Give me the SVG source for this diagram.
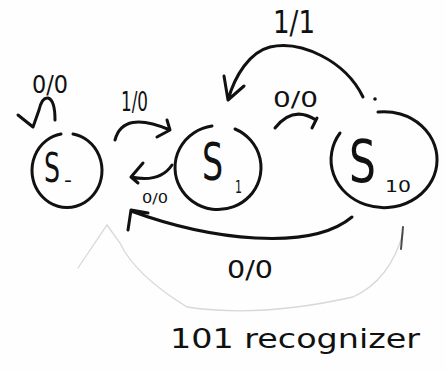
<svg xmlns="http://www.w3.org/2000/svg" width="446" height="371" viewBox="0 0 446 371">
  <style>
    .ink { fill: none; stroke: #111; stroke-width: 3; stroke-linecap: round; stroke-linejoin: round; }
    .faint { fill: none; stroke: #9a8c8e; stroke-width: 1.3; stroke-linecap: round; opacity: 0.35; }
    .lbl { font-family: "DejaVu Sans", "Liberation Sans", sans-serif; fill: #111; }
  </style>
  <rect width="446" height="371" fill="#fefefe"/>

  <!-- faint marks showing through the paper -->
  <g id="bleed">
    <path class="faint" d="M78,268 L107,225 L120,243 Q135,275 187,307 Q260,318 353,297 Q390,280 403,233"/>
    <path class="ink" d="M403,227 L401,249" style="stroke-width:2;opacity:0.75"/>
  </g>

  <!-- states: state letter is narrowed with a horizontal scale -->
  <g id="s0">
    <path class="ink" d="M73,134 A35 37 0 1 1 61,134"/>
    <text class="lbl" transform="translate(44,182) scale(0.63,1)" font-size="40">S</text>
    <text class="lbl" x="64" y="187" font-size="20" textLength="8" lengthAdjust="spacingAndGlyphs">-</text>
  </g>
  <g id="s1">
    <path class="ink" d="M235,129 A43 42 0 1 1 212,126"/>
    <text class="lbl" transform="translate(202,180) scale(0.64,1)" font-size="52">S</text>
    <text class="lbl" x="235" y="193" font-size="18" textLength="7" lengthAdjust="spacingAndGlyphs">1</text>
  </g>
  <g id="s10">
    <path class="ink" d="M378,112 A53 48 0 1 1 340,133"/>
    <text class="lbl" transform="translate(349,182) scale(0.73,1)" font-size="58">S</text>
    <text class="lbl" x="385" y="192" font-size="15" textLength="26" lengthAdjust="spacingAndGlyphs">10</text>
  </g>

  <!-- transitions -->
  <g id="connectors">
    <!-- S0 self loop -->
    <path class="ink" d="M18,115 L33,127 L39,110 Q42,97 48,98 Q55,100 55,120"/>
    <!-- S0 -> S1 -->
    <path class="ink" d="M115,140 Q123,110 170,130 M157,137 L170,130 L167,120"/>
    <!-- S1 -> S0 -->
    <path class="ink" d="M172,165 Q160,183 131,177 M143,163 L131,177 L138,183"/>
    <!-- S1 -> S10 -->
    <path class="ink" d="M275,128 Q293,105 316,120 M317,118 L312,128"/>
    <!-- S10 -> S1 -->
    <path class="ink" d="M363,97 C345,60 300,40 270,47 C250,52 235,75 228,100 M224,76 L228,100 L244,86"/>
    <circle cx="375" cy="99" r="1.8" fill="#111"/>
    <!-- S10 -> S0 -->
    <path class="ink" d="M352,217 C310,252 210,240 131,211 M128,230 L131,210 L148,213"/>
  </g>

  <!-- transition labels -->
  <g id="labels">
    <text class="lbl" x="32" y="93" font-size="25" textLength="36" lengthAdjust="spacingAndGlyphs">0/0</text>
    <text class="lbl" x="121" y="111" font-size="26" textLength="27" lengthAdjust="spacingAndGlyphs">1/0</text>
    <text class="lbl" x="142" y="203" font-size="14" textLength="26" lengthAdjust="spacingAndGlyphs">0/0</text>
    <text class="lbl" x="273" y="107" font-size="21" textLength="45" lengthAdjust="spacingAndGlyphs">0/0</text>
    <text class="lbl" x="273" y="33" font-size="32" textLength="42" lengthAdjust="spacingAndGlyphs">1/1</text>
    <text class="lbl" x="227" y="278" font-size="24" textLength="46" lengthAdjust="spacingAndGlyphs">0/0</text>
  </g>

  <text id="caption" class="lbl" x="170" y="348" font-size="26" textLength="250" lengthAdjust="spacingAndGlyphs">101 recognizer</text>
</svg>
